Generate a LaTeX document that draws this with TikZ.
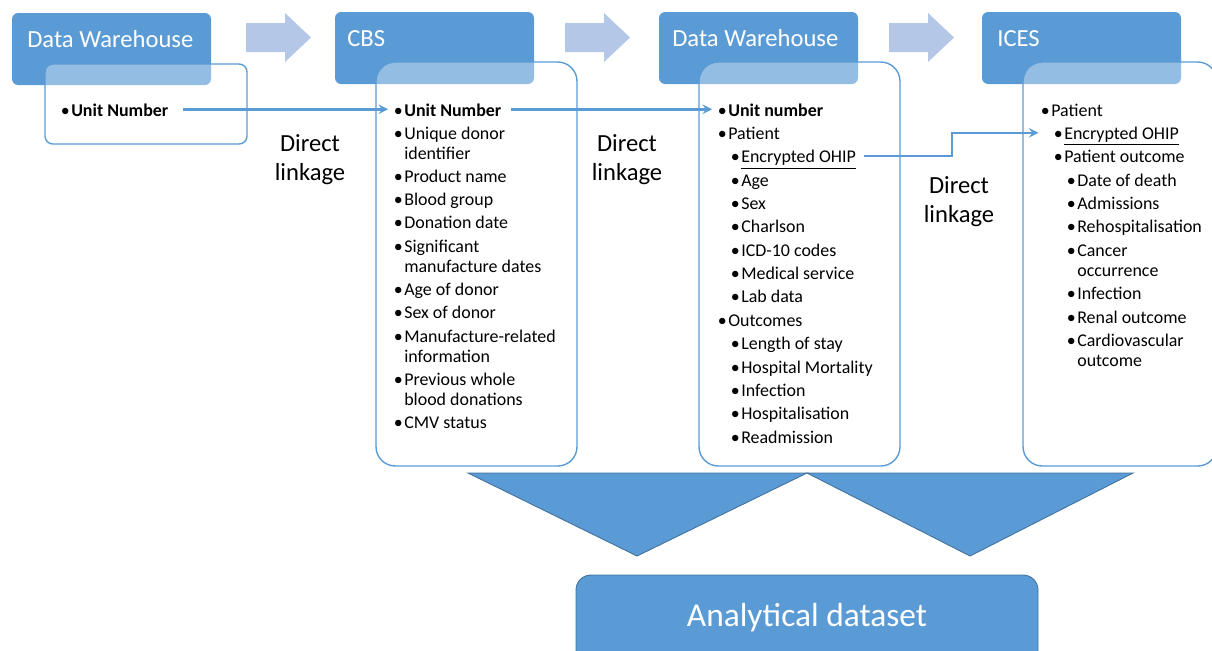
\documentclass[tikz,border=0pt]{standalone}
\usepackage{fontspec}
\setmainfont{Carlito}
\usepackage{tikz}
\usepackage{xcolor}
\definecolor{bleu}{HTML}{5B9BD5}
\definecolor{bleu_clair}{HTML}{B4C7E7}
\definecolor{bleu_fonce}{HTML}{41719C}
\newcommand{\puce}[1]{\makebox[6pt][l]{\textbullet}\begin{tabular}[t]{@{}l@{}}#1\end{tabular}}

\begin{document}
\begin{tikzpicture}[x=0.02cm,y=-0.02cm,>=stealth,
    tete/.style={fill=bleu,rounded corners=3.5pt},
    cadre/.style={draw=bleu,line width=0.8pt,fill=white,fill opacity=0.35,rounded corners=11pt},
    titre/.style={anchor=base west,inner sep=0pt,text=white,font=\fontsize{14}{17}\selectfont},
    liste/.style={anchor=base west,inner sep=0pt,font=\fontsize{10.2}{11.6}\selectfont},
    lien/.style={align=center,inner sep=0pt,font=\fontsize{14}{16.5}\selectfont},
    fleche/.style={fill=bleu_clair},
    trait/.style={->,draw=bleu,line width=1.4pt},
    entonnoir/.style={fill=bleu,draw=bleu_fonce,line width=0.5pt}]

    \useasboundingbox (0,0) rectangle (1212,650);

    % Dessiner les en-têtes
    \fill[tete] (12,13) rectangle (211,85);
    \fill[tete] (335,12) rectangle (534,84);
    \fill[tete] (659,12) rectangle (858,84);
    \fill[tete] (982,12) rectangle (1181,84);

    % Dessiner les cadres des listes
    \draw[cadre,rounded corners=4.5pt] (45,64) rectangle (247,144);
    \draw[cadre] (376,62) rectangle (577,466);
    \draw[cadre] (699,62) rectangle (900,466);
    \draw[cadre] (1023,62) rectangle (1217,466);

    % Flèches entre les en-têtes
    \fill[fleche] (246,23) -- (285,23) -- (285,13) -- (311,37.5) -- (285,62) -- (285,52) -- (246,52) -- cycle;
    \fill[fleche] (565,23) -- (604,23) -- (604,13) -- (630,37.5) -- (604,62) -- (604,52) -- (565,52) -- cycle;
    \fill[fleche] (889,23) -- (928,23) -- (928,13) -- (954,37.5) -- (928,62) -- (928,52) -- (889,52) -- cycle;

    \node[titre] (t1) at (27,47) {Data Warehouse};
    \node[titre] (t2) at (347,46) {CBS};
    \node[titre] (t3) at (672,46) {Data Warehouse};
    \node[titre] (t4) at (997,46) {ICES};

    % Première liste
    \node[liste] (u1) at (60.4,116) {\puce{\textbf{Unit Number}}};

    % Liste CBS
    \node[liste] (c1) at (393.4,116) {\puce{\textbf{Unit Number}}};
    \node[liste] (c2) at (393.4,139) {\puce{Unique donor\\identifier}};
    \node[liste] (c3) at (393.4,182) {\puce{Product name}};
    \node[liste] (c4) at (393.4,205) {\puce{Blood group}};
    \node[liste] (c5) at (393.4,228) {\puce{Donation date}};
    \node[liste] (c6) at (393.4,252) {\puce{Significant\\manufacture dates}};
    \node[liste] (c7) at (393.4,295) {\puce{Age of donor}};
    \node[liste] (c8) at (393.4,318) {\puce{Sex of donor}};
    \node[liste] (c9) at (393.4,342) {\puce{Manufacture-related\\information}};
    \node[liste] (c10) at (393.4,385) {\puce{Previous whole\\blood donations}};
    \node[liste] (c11) at (393.4,428) {\puce{CMV status}};

    % Liste Data Warehouse
    \node[liste] (w1) at (717.4,116) {\puce{\textbf{Unit number}}};
    \node[liste] (w2) at (717.4,139.4) {\puce{Patient}};
    \node[liste] (w3) at (730.4,162.7) {\puce{\underline{Encrypted OHIP}}};
    \node[liste] (w4) at (730.4,186.1) {\puce{Age}};
    \node[liste] (w5) at (730.4,209.4) {\puce{Sex}};
    \node[liste] (w6) at (730.4,232.8) {\puce{Charlson}};
    \node[liste] (w7) at (730.4,256.2) {\puce{ICD-10 codes}};
    \node[liste] (w8) at (730.4,279.5) {\puce{Medical service}};
    \node[liste] (w9) at (730.4,302.9) {\puce{Lab data}};
    \node[liste] (w10) at (717.4,326.2) {\puce{Outcomes}};
    \node[liste] (w11) at (730.4,349.6) {\puce{Length of stay}};
    \node[liste] (w12) at (730.4,373) {\puce{Hospital Mortality}};
    \node[liste] (w13) at (730.4,396.3) {\puce{Infection}};
    \node[liste] (w14) at (730.4,419.7) {\puce{Hospitalisation}};
    \node[liste] (w15) at (730.4,443) {\puce{Readmission}};

    % Liste ICES
    \node[liste] (i1) at (1040.4,116) {\puce{Patient}};
    \node[liste] (i2) at (1053.4,139.4) {\puce{\underline{Encrypted OHIP}}};
    \node[liste] (i3) at (1053.4,162.7) {\puce{Patient outcome}};
    \node[liste] (i4) at (1066.4,186) {\puce{Date of death}};
    \node[liste] (i5) at (1066.4,209.4) {\puce{Admissions}};
    \node[liste] (i6) at (1066.4,232.8) {\puce{Rehospitalisation}};
    \node[liste] (i7) at (1066.4,256.2) {\puce{Cancer\\occurrence}};
    \node[liste] (i8) at (1066.4,299.5) {\puce{Infection}};
    \node[liste] (i9) at (1066.4,323) {\puce{Renal outcome}};
    \node[liste] (i10) at (1066.4,346.3) {\puce{Cardiovascular\\outcome}};

    % Liens directs
    \node[lien] (d1) at (310,160) {Direct\\linkage};
    \node[lien] (d2) at (627,160) {Direct\\linkage};
    \node[lien] (d3) at (959,202) {Direct\\linkage};

    \coordinate (coude) at (952,0);
    \draw[trait,shorten <=8pt,shorten >=3pt] ([yshift=1.5pt]u1.east) -- ([yshift=1.5pt]c1.west);
    \draw[trait,shorten <=5.5pt,shorten >=3pt] ([yshift=1.5pt]c1.east) -- ([yshift=1.5pt]w1.west);
    \draw[trait,shorten <=4.5pt,shorten >=8.5pt] ([yshift=1.5pt]w3.east) -- ([yshift=1.5pt]w3.east -| coude) -- ([yshift=1.5pt]coude |- i2.west) -- ([yshift=1.5pt]i2.west);

    % Jeu de données final
    \draw[entonnoir] (468,473) -- (807,473) -- (637,556) -- cycle;
    \draw[entonnoir] (807,473) -- (1133,473) -- (970,556) -- cycle;
    \draw[entonnoir,rounded corners=8.5pt] (576,575) rectangle (1038,670);
    \node[text=white,font=\fontsize{19}{23}\selectfont] (ad) at (807,618) {Analytical dataset};
\end{tikzpicture}
\end{document}
